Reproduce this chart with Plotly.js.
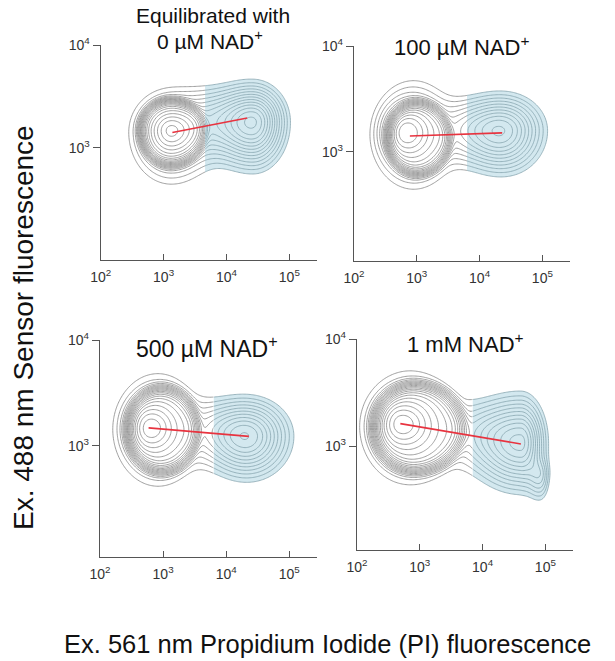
<!DOCTYPE html>
<html><head><meta charset="utf-8">
<script src="https://cdn.plot.ly/plotly-3.0.1.min.js"></script>
<style>html,body{margin:0;padding:0;background:#fff}</style>
</head><body><div id="chart" style="width:615px;height:661px"></div>
<script>
// ---- tick labels & titles ----
const xTickVals = [2, 3, 4, 5];
const xTickText = ['10<sup>2</sup>', '10<sup>3</sup>', '10<sup>4</sup>', '10<sup>5</sup>'];
const yTickVals = [3, 4];
const yTickText = ['10<sup>3</sup>', '10<sup>4</sup>'];
const panelTitles = [['Equilibrated with', '0 µM NAD<sup>+</sup>'], ['100 µM NAD<sup>+</sup>'], ['500 µM NAD<sup>+</sup>'], ['1 mM NAD<sup>+</sup>']];
const xAxisTitle = 'Ex. 561 nm Propidium Iodide (PI) fluorescence';
const yAxisTitle = 'Ex. 488 nm Sensor fluorescence';

// ---- population density components per panel (log10 units) ----
// panel order: 0 µM, 100 µM, 500 µM, 1 mM
// components: [left envelope, left ring, left core, right lobe, bridge, (tail)]
const compCx  = [[3.12, 3.11, 3.11, 4.43, 3.80], [2.95, 3.00, 2.80, 4.36, 3.78], [2.92, 2.98, 2.77, 4.33, 3.78], [2.85, 2.92, 2.68, 4.61, 3.95, 4.92]];
const compCy  = [[3.15, 3.17, 3.17, 3.25, 3.25], [3.15, 3.13, 3.19, 3.20, 3.20], [3.15, 3.15, 3.17, 3.09, 3.15], [3.17, 3.17, 3.21, 3.03, 3.12, 2.72]];
const compSxL = [[0.36, 0.44, 0.20, 0.33, 0.32], [0.36, 0.43, 0.20, 0.36, 0.30], [0.38, 0.50, 0.20, 0.36, 0.30], [0.43, 0.60, 0.22, 0.42, 0.30, 0.12]];
const compSxR = [[0.38, 0.50, 0.22, 0.27, 0.32], [0.36, 0.48, 0.24, 0.35, 0.30], [0.38, 0.52, 0.24, 0.36, 0.30], [0.45, 0.70, 0.28, 0.21, 0.30, 0.09]];
const compSyB = [[0.27, 0.31, 0.13, 0.23, 0.20], [0.27, 0.31, 0.14, 0.21, 0.18], [0.29, 0.36, 0.14, 0.21, 0.18], [0.29, 0.37, 0.14, 0.23, 0.18, 0.14]];
const compSyT = [[0.23, 0.27, 0.12, 0.19, 0.19], [0.28, 0.31, 0.14, 0.18, 0.17], [0.29, 0.36, 0.14, 0.19, 0.17], [0.29, 0.37, 0.14, 0.23, 0.17, 0.10]];
const compW   = [[0.20, 0.38, 0.20, 0.38, 0.13], [0.20, 0.38, 0.20, 0.30, 0.10], [0.19, 0.38, 0.20, 0.30, 0.07], [0.19, 0.38, 0.20, 0.32, 0.07, 0.10]];
const compPow = [[2, 8, 2, 2, 2], [2, 8, 2, 2, 2], [2, 8, 2, 2, 2], [2, 8, 2, 2, 2, 2]];
// PI-positive gate (log10 x) per panel
const gateX = [3.66, 3.80, 3.80, 3.84];
// red trend line per panel
const redX = [[3.14, 4.33], [2.89, 4.36], [2.77, 4.36], [2.69, 4.61]];
const redY = [[3.15, 3.29], [3.15, 3.18], [3.17, 3.09], [3.21, 3.02]];

// ---- layout geometry (pixels) ----
const W = 615, H = 661;
const boxes = [ // [left, right, top, bottom, yMin]
  [100.7, 317, 45, 260, 1.91],
  [354, 570, 46, 261, 1.97],
  [100, 317, 340, 557, 1.95],
  [357, 573, 339, 550, 2.03]
];
const xMax = 5.44;

function density(p, x, y) {
  let s = 0;
  for (let k = 0; k < compCx[p].length; k++) {
    const dx = x - compCx[p][k], dy = y - compCy[p][k];
    const sx = dx < 0 ? compSxL[p][k] : compSxR[p][k];
    const sy = dy < 0 ? compSyB[p][k] : compSyT[p][k];
    const q = (dx / sx) * (dx / sx) + (dy / sy) * (dy / sy);
    s += compW[p][k] * Math.exp(-0.5 * Math.pow(q, compPow[p][k] / 2));
  }
  return Math.pow(s, 0.6); // contour scale (compresses high densities like a probability plot)
}

const xs = [], ys = [];
for (let i = 0; i <= 172; i++) xs.push(2 + i * 0.02);
for (let j = 0; j <= 140; j++) ys.push(1.9 + j * 0.015);

const lvl = {start: 0.135, end: 1.3, size: 0.036};
const traces = [];
const layout = {
  width: W, height: H, margin: {l: 0, r: 0, t: 0, b: 0},
  paper_bgcolor: '#fff', plot_bgcolor: 'rgba(0,0,0,0)', showlegend: false,
  font: {family: 'Liberation Sans, Arial, sans-serif', color: '#222'},
  annotations: []
};

for (let p = 0; p < 4; p++) {
  const xa = p === 0 ? 'x' : 'x' + (p + 1);
  const ya = p === 0 ? 'y' : 'y' + (p + 1);
  const gi = xs.findIndex(v => v >= gateX[p] - 1e-9);
  const xl = xs.slice(0, gi + 1), xr = xs.slice(gi);
  const zl = ys.map(y => xl.map(x => density(p, x, y)));
  const zr = ys.map(y => xr.map(x => density(p, x, y)));
  traces.push({type: 'contour', x: xr, y: ys, z: zr, xaxis: xa, yaxis: ya, autocontour: false,
    contours: {coloring: 'fill', start: lvl.start, end: lvl.start, size: 1, showlines: false},
    colorscale: [[0, 'rgba(255,255,255,0)'], [1, '#d3e8ef']], line: {width: 0, smoothing: 1},
    showscale: false, hoverinfo: 'skip'});
  traces.push({type: 'contour', x: xr, y: ys, z: zr, xaxis: xa, yaxis: ya, autocontour: false,
    contours: {coloring: 'lines', start: lvl.start, end: lvl.end, size: lvl.size},
    colorscale: [[0, '#86a4ae'], [1, '#86a4ae']], line: {width: 0.8, smoothing: 1},
    showscale: false, hoverinfo: 'skip'});
  traces.push({type: 'contour', x: xl, y: ys, z: zl, xaxis: xa, yaxis: ya, autocontour: false,
    contours: {coloring: 'lines', start: lvl.start, end: lvl.end, size: lvl.size},
    colorscale: [[0, '#888888'], [1, '#888888']], line: {width: 0.8, smoothing: 1},
    showscale: false, hoverinfo: 'skip'});
  traces.push({type: 'scatter', mode: 'lines', x: redX[p], y: redY[p], xaxis: xa, yaxis: ya,
    line: {color: '#e8333f', width: 1.6}, hoverinfo: 'skip'});

  const b = boxes[p];
  const tf = {family: 'Liberation Sans, Arial, sans-serif', size: 14, color: '#333'};
  layout[p === 0 ? 'xaxis' : 'xaxis' + (p + 1)] = {
    domain: [b[0] / W, b[1] / W], range: [2, xMax], anchor: ya,
    tickmode: 'array', tickvals: xTickVals, ticktext: xTickText,
    ticks: 'inside', ticklen: 6, tickcolor: '#555', tickwidth: 1, ticklabelstandoff: 4,
    showline: true, linecolor: '#555', linewidth: 1.2,
    showgrid: false, zeroline: false, tickfont: tf, fixedrange: true
  };
  layout[p === 0 ? 'yaxis' : 'yaxis' + (p + 1)] = {
    domain: [1 - b[3] / H, 1 - b[2] / H], range: [b[4], 4], anchor: xa,
    tickmode: 'array', tickvals: yTickVals, ticktext: yTickText,
    ticks: 'outside', ticklen: 7, tickcolor: '#555', tickwidth: 1,
    showline: true, linecolor: '#555', linewidth: 1.2,
    showgrid: false, zeroline: false, tickfont: tf, fixedrange: true
  };
}

const titlePos = [[[213, 15], [210, 40]], [[461, 46]], [[207, 347]], [[465, 343]]];
const titleSize = [21, 22, 23, 22];
for (let p = 0; p < 4; p++) {
  panelTitles[p].forEach((t, i) => {
    layout.annotations.push({text: t, xref: 'paper', yref: 'paper',
      x: titlePos[p][i][0] / W, y: 1 - titlePos[p][i][1] / H, xanchor: 'center', yanchor: 'middle',
      showarrow: false, font: {size: titleSize[p], color: '#111'}});
  });
}
layout.annotations.push({text: xAxisTitle, xref: 'paper', yref: 'paper',
  x: 327 / W, y: 1 - 644 / H, xanchor: 'center', yanchor: 'middle', showarrow: false,
  font: {size: 25.5, color: '#111'}});
layout.annotations.push({text: yAxisTitle, xref: 'paper', yref: 'paper', textangle: -90,
  x: 23 / W, y: 1 - 328 / H, xanchor: 'center', yanchor: 'middle', showarrow: false,
  font: {size: 28, color: '#111'}});

Plotly.newPlot('chart', traces, layout, {staticPlot: true, displayModeBar: false});
</script></body></html>
